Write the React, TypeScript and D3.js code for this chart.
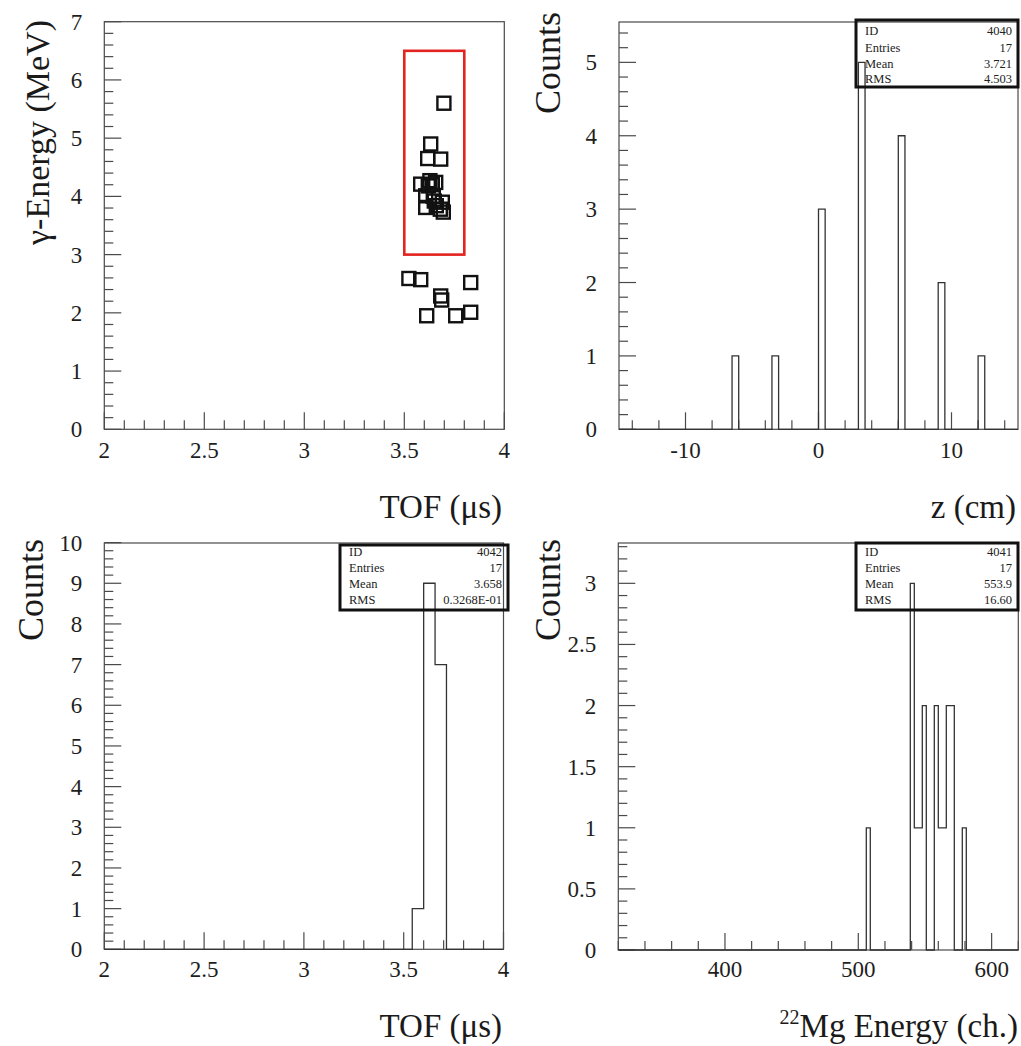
import React from 'react';
import * as d3 from 'd3';

// ---------- data ----------
// scatter: TOF (µs) vs gamma energy (MeV)
const scatterTOF = [3.698, 3.632, 3.617, 3.682, 3.582, 3.628, 3.657, 3.62, 3.64, 3.607, 3.645, 3.65, 3.607, 3.69, 3.66, 3.695, 3.68,
  3.523, 3.582, 3.832, 3.682, 3.687, 3.612, 3.757, 3.832];
const scatterEnergy = [5.60, 4.90, 4.65, 4.64, 4.21, 4.27, 4.24, 4.18, 4.20, 4.01, 4.00, 3.92, 3.81, 3.90, 3.84, 3.73, 3.78,
  2.59, 2.57, 2.52, 2.29, 2.22, 1.95, 1.95, 2.01];
const cutTOF = [3.5, 3.8];
const cutEnergy = [3.0, 6.5];

// histogram z (cm)
const zRange = [-15, 15];
const zNbins = 60;
const zFilledBins = [17, 23, 30, 36, 42, 48, 54];
const zCounts = [1, 1, 3, 5, 4, 2, 1];

// histogram TOF (µs)
const tofRange = [2, 4];
const tofNbins = 35;
const tofFilledBins = [27, 28, 29];
const tofCounts = [1, 9, 7];

// histogram 22Mg energy (ch.)
const mgRange = [320, 620];
const mgNbins = 100;
const mgFilledBins = [62, 73, 74, 75, 76, 79, 80, 81, 82, 83, 86];
const mgCounts = [1, 3, 1, 1, 2, 2, 1, 1, 2, 2, 1];

// tick labels
const tofTickValues = [2, 2.5, 3, 3.5, 4];
const tofTickLabels = ['2', '2.5', '3', '3.5', '4'];
const energyTickValues = [0, 1, 2, 3, 4, 5, 6, 7];
const zTickValues = [-10, 0, 10];
const zTickLabels = ['-10', '0', '10'];
const zCountTicks = [0, 1, 2, 3, 4, 5];
const tofCountTicks = [0, 1, 2, 3, 4, 5, 6, 7, 8, 9, 10];
const mgTickValues = [400, 500, 600];
const mgCountTicks = [0, 0.5, 1, 1.5, 2, 2.5, 3];
const mgCountLabels = ['0', '0.5', '1', '1.5', '2', '2.5', '3'];

const statLabels = ['ID', 'Entries', 'Mean', 'RMS'];
const statsZ = ['4040', '17', '3.721', '4.503'];
const statsTOF = ['4042', '17', '3.658', '0.3268E-01'];
const statsMg = ['4041', '17', '553.9', '16.60'];

// ---------- helpers ----------
const FONT = '"Liberation Serif", "Times New Roman", Times, serif';
const AX = '#4a4a4a';

function fullHist(nbins: number, filled: number[], counts: number[]) {
  const arr = new Array(nbins).fill(0);
  filled.forEach((b, i) => { arr[b] = counts[i]; });
  return arr;
}

function histPath(x: d3.ScaleLinear<number, number>, y: d3.ScaleLinear<number, number>, range: number[], nbins: number, filled: number[], counts: number[]) {
  const vals = fullHist(nbins, filled, counts);
  const w = (range[1] - range[0]) / nbins;
  const pts: [number, number][] = [[range[0], 0]];
  vals.forEach((c, i) => {
    pts.push([range[0] + i * w, c]);
    pts.push([range[0] + (i + 1) * w, c]);
  });
  pts.push([range[1], 0]);
  const line = d3.line<[number, number]>().x(d => x(d[0])).y(d => y(d[1]));
  return line(pts) || '';
}

type AxesProps = {
  x: d3.ScaleLinear<number, number>;
  y: d3.ScaleLinear<number, number>;
  xMajor: number[]; xLabels: string[]; xMinorStep: number;
  yMajor: number[]; yLabels: string[]; yMinorStep: number;
  xLabelBaseline: number;
};

function Axes({ x, y, xMajor, xLabels, xMinorStep, yMajor, yLabels, yMinorStep, xLabelBaseline }: AxesProps) {
  const [x0, x1] = x.range();
  const [yb, yt] = y.range();
  const xd = x.domain();
  const yd = y.domain();
  const xMinor = d3.range(Math.ceil(xd[0] / xMinorStep - 1e-6) * xMinorStep, xd[1] + 1e-9, xMinorStep)
    .filter(v => !xMajor.some(m => Math.abs(m - v) < 1e-6));
  const yMinor = d3.range(0, yd[1] + 1e-9, yMinorStep)
    .filter(v => !yMajor.some(m => Math.abs(m - v) < 1e-6));
  const majL = 17, minL = 9;
  return (
    <g>
      <rect x={x0} y={yt} width={x1 - x0} height={yb - yt} fill="none" stroke={AX} strokeWidth={1.2} />
      {xMajor.map(v => <line key={'xM' + v} x1={x(v)} x2={x(v)} y1={yb} y2={yb - majL} stroke={AX} strokeWidth={1.2} />)}
      {xMinor.map(v => <line key={'xm' + v} x1={x(v)} x2={x(v)} y1={yb} y2={yb - minL} stroke={AX} strokeWidth={1.2} />)}
      {yMajor.map(v => <line key={'yM' + v} x1={x0} x2={x0 + majL} y1={y(v)} y2={y(v)} stroke={AX} strokeWidth={1.2} />)}
      {yMinor.map(v => <line key={'ym' + v} x1={x0} x2={x0 + minL} y1={y(v)} y2={y(v)} stroke={AX} strokeWidth={1.2} />)}
      {xMajor.map((v, i) => (
        <text key={'xl' + v} x={x(v)} y={xLabelBaseline} textAnchor="middle" fontSize={23} fontFamily={FONT} fill="#1e1e1e">{xLabels[i]}</text>
      ))}
      {yMajor.map((v, i) => (
        <text key={'yl' + v} x={x0 - 22} y={y(v) + 8} textAnchor="end" fontSize={23} fontFamily={FONT} fill="#1e1e1e">{yLabels[i]}</text>
      ))}
    </g>
  );
}

function StatsBox({ x, y, w, h, values, rowY }: { x: number; y: number; w: number; h: number; values: string[]; rowY: number[] }) {
  return (
    <g>
      <rect x={x} y={y} width={w} height={h} fill="none" stroke="#111" strokeWidth={3} />
      {statLabels.map((l, i) => (
        <g key={l}>
          <text x={x + 9} y={rowY[i]} fontSize={12.5} fontFamily={FONT} fill="#222">{l}</text>
          <text x={x + w - 6} y={rowY[i]} fontSize={12.5} fontFamily={FONT} fill="#222" textAnchor="end">{values[i]}</text>
        </g>
      ))}
    </g>
  );
}

export default function App() {
  // panel scales
  const xTL = d3.scaleLinear().domain([2, 4]).range([104.3, 504.3]);
  const yTL = d3.scaleLinear().domain([0, 7]).range([429.3, 21.7]);

  const xTR = d3.scaleLinear().domain(zRange).range([619, 1018]);
  const yTR = d3.scaleLinear().domain([0, 5.55]).range([429.3, 22]);

  const xBL = d3.scaleLinear().domain(tofRange).range([104.3, 503.5]);
  const yBL = d3.scaleLinear().domain([0, 9.99]).range([949.3, 543]);

  const xBR = d3.scaleLinear().domain(mgRange).range([618.3, 1018.3]);
  const yBR = d3.scaleLinear().domain([0, 3.33]).range([950, 543]);

  const title = (t: React.ReactNode, x: number, y: number, anchor: string) => (
    <text x={x} y={y} textAnchor={anchor} fontSize={33} fontFamily={FONT} fill="#1a1a1a">{t}</text>
  );
  const vtitle = (t: string, x: number, y: number, size: number) => (
    <text transform={`translate(${x},${y}) rotate(-90)`} textAnchor="end" fontSize={size} fontFamily={FONT} fill="#1a1a1a">{t}</text>
  );

  const sq = 13;

  return (
    <svg width={1021} height={1046} style={{ position: 'absolute', left: 0, top: 0, background: '#fff' }}>
      <rect x={0} y={0} width={1021} height={1046} fill="#fff" />

      {/* ---------- top-left scatter ---------- */}
      <Axes x={xTL} y={yTL} xMajor={tofTickValues} xLabels={tofTickLabels} xMinorStep={0.1}
        yMajor={energyTickValues} yLabels={energyTickValues.map(String)} yMinorStep={0.2} xLabelBaseline={458} />
      <rect x={xTL(cutTOF[0])} y={yTL(cutEnergy[1])} width={xTL(cutTOF[1]) - xTL(cutTOF[0])}
        height={yTL(cutEnergy[0]) - yTL(cutEnergy[1])} fill="none" stroke="#e3231f" strokeWidth={2.6} />
      {scatterTOF.map((t, i) => (
        <rect key={'p' + i} x={xTL(t) - sq / 2} y={yTL(scatterEnergy[i]) - sq / 2} width={sq} height={sq}
          fill="none" stroke="#111" strokeWidth={2.4} />
      ))}
      {vtitle('γ-Energy (MeV)', 49, 20, 34)}
      {title('TOF (μs)', 502, 518, 'end')}

      {/* ---------- top-right z histogram ---------- */}
      <Axes x={xTR} y={yTR} xMajor={zTickValues} xLabels={zTickLabels} xMinorStep={2}
        yMajor={zCountTicks} yLabels={zCountTicks.map(String)} yMinorStep={0.2} xLabelBaseline={458} />
      <path d={histPath(xTR, yTR, zRange, zNbins, zFilledBins, zCounts)} fill="none" stroke="#333" strokeWidth={1.3} />
      <StatsBox x={856} y={20} w={162} h={67} values={statsZ} rowY={[35, 52, 68, 83]} />
      {vtitle('Counts', 560, 12, 36)}
      {title('z (cm)', 1016, 518, 'end')}

      {/* ---------- bottom-left TOF histogram ---------- */}
      <Axes x={xBL} y={yBL} xMajor={tofTickValues} xLabels={tofTickLabels} xMinorStep={0.1}
        yMajor={tofCountTicks} yLabels={tofCountTicks.map(String)} yMinorStep={0.2} xLabelBaseline={977} />
      <path d={histPath(xBL, yBL, tofRange, tofNbins, tofFilledBins, tofCounts)} fill="none" stroke="#333" strokeWidth={1.3} />
      <StatsBox x={340} y={545} w={168} h={65} values={statsTOF} rowY={[556, 572, 588, 604]} />
      {vtitle('Counts', 43, 539, 36)}
      {title('TOF (μs)', 502, 1037, 'end')}

      {/* ---------- bottom-right Mg histogram ---------- */}
      <Axes x={xBR} y={yBR} xMajor={mgTickValues} xLabels={mgTickValues.map(String)} xMinorStep={20}
        yMajor={mgCountTicks} yLabels={mgCountLabels} yMinorStep={0.1} xLabelBaseline={977} />
      <path d={histPath(xBR, yBR, mgRange, mgNbins, mgFilledBins, mgCounts)} fill="none" stroke="#333" strokeWidth={1.3} />
      <StatsBox x={856} y={543} w={162} h={67} values={statsMg} rowY={[556, 572, 588, 604]} />
      {vtitle('Counts', 560, 539, 36)}
      <text x={1018} y={1037} textAnchor="end" fontSize={33} fontFamily={FONT} fill="#1a1a1a">
        <tspan fontSize={20} dy={-13}>22</tspan>
        <tspan dy={13}>Mg Energy (ch.)</tspan>
      </text>
    </svg>
  );
}
